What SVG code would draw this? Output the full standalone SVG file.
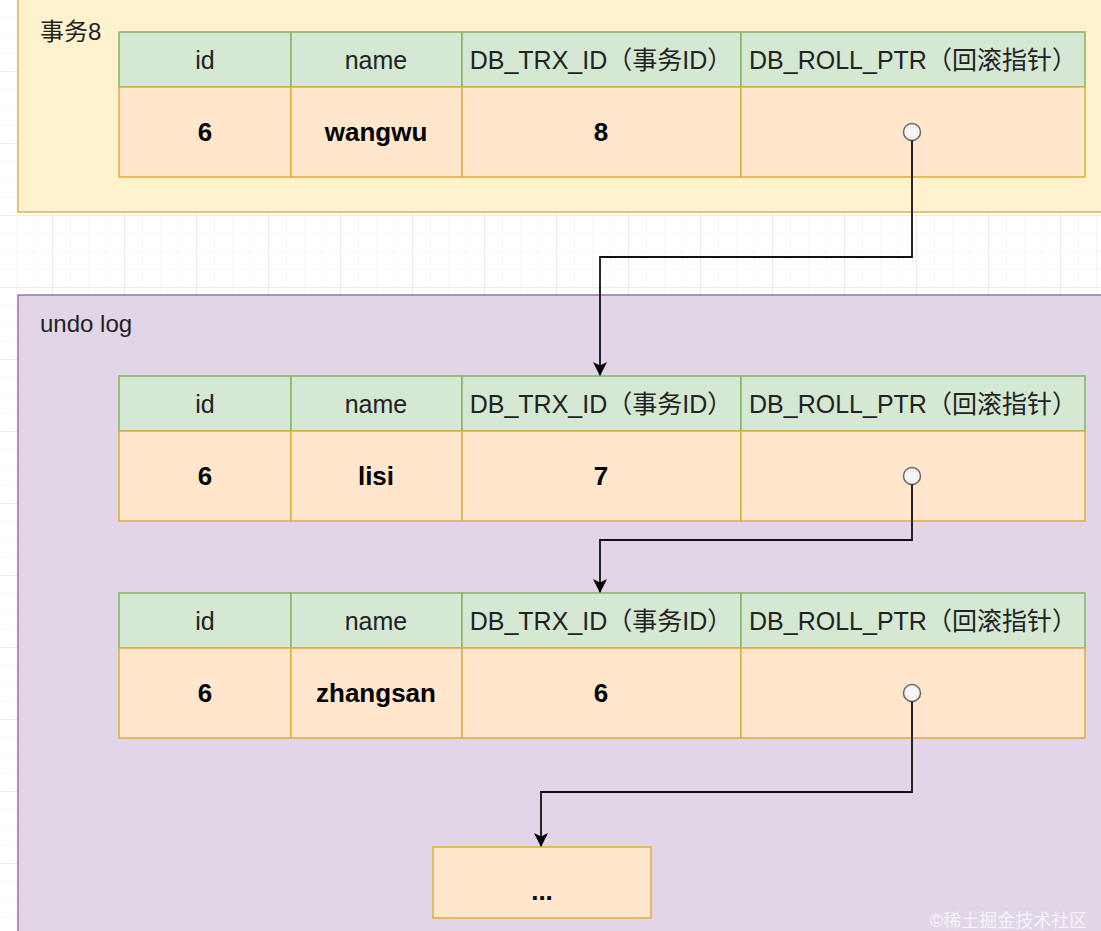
<svg xmlns="http://www.w3.org/2000/svg" width="1101" height="931" viewBox="0 0 1101 931">
<defs>
<pattern id="minor" x="-1" y="0" width="18" height="18" patternUnits="userSpaceOnUse">
<path d="M18 0 V18 M0 18 H18" fill="none" stroke="#efefef" stroke-width="1"/>
</pattern>
<pattern id="major" x="-19" y="0" width="72" height="72" patternUnits="userSpaceOnUse">
<path d="M72 0 V72 M0 72 H72" fill="none" stroke="#e0e0e0" stroke-width="1"/>
</pattern>
<marker id="arr" viewBox="0 0 14 14" refX="13" refY="7" markerWidth="14" markerHeight="14" markerUnits="userSpaceOnUse" orient="auto">
<path d="M0 0 L14 7 L0 14 L3.5 7 Z" fill="#000"/>
</marker>
</defs>
<style>
.t{font-family:"Liberation Sans","Noto Sans CJK SC",Arial,sans-serif;fill:#222}
.h{font-size:25px;text-anchor:middle}
.b{font-size:26px;font-weight:bold;text-anchor:middle;fill:#000}
.lbl{font-size:24px}
.hd{fill:#d5e8d4;stroke:#82b366;stroke-width:1.5}
.bd{fill:#ffe6cc;stroke:#e0ae3a;stroke-width:1.5}
.ptr{fill:#f5f5f5;stroke:#666;stroke-width:1.5}
.edge{fill:none;stroke:#111;stroke-width:1.8}
</style>
<rect width="1101" height="931" fill="#fff"/>
<rect width="1101" height="931" fill="url(#minor)"/>
<rect width="1101" height="931" fill="url(#major)"/>

<g id="trx8-container">
<rect x="18" y="-10" width="1100" height="222" fill="#fff2cc" stroke="#d6b656" stroke-width="1.5"/>
<text class="t lbl" x="40" y="40">事务8</text>
</g>

<g id="undo-container">
<rect x="18" y="295" width="1100" height="650" fill="#e1d5e7" stroke="#9673a6" stroke-width="1.5"/>
<text class="t lbl" x="40" y="332">undo log</text>
</g>

<g id="row-wangwu">
<rect class="hd" x="119" y="32" width="172" height="55"/>
<rect class="hd" x="291" y="32" width="171" height="55"/>
<rect class="hd" x="462" y="32" width="279" height="55"/>
<rect class="hd" x="741" y="32" width="344" height="55"/>
<rect class="bd" x="119" y="87" width="172" height="90"/>
<rect class="bd" x="291" y="87" width="171" height="90"/>
<rect class="bd" x="462" y="87" width="279" height="90"/>
<rect class="bd" x="741" y="87" width="344" height="90"/>
<text class="t h" x="205" y="69">id</text>
<text class="t h" x="376" y="69">name</text>
<text class="t h" x="601" y="69">DB_TRX_ID（事务ID）</text>
<text class="t h" x="913" y="69">DB_ROLL_PTR（回滚指针）</text>
<text class="t b" x="205" y="141">6</text>
<text class="t b" x="376" y="141">wangwu</text>
<text class="t b" x="601" y="141">8</text>
<circle class="ptr" cx="912" cy="132" r="8.5"/>
</g>

<g id="row-lisi">
<rect class="hd" x="119" y="376" width="172" height="55"/>
<rect class="hd" x="291" y="376" width="171" height="55"/>
<rect class="hd" x="462" y="376" width="279" height="55"/>
<rect class="hd" x="741" y="376" width="344" height="55"/>
<rect class="bd" x="119" y="431" width="172" height="90"/>
<rect class="bd" x="291" y="431" width="171" height="90"/>
<rect class="bd" x="462" y="431" width="279" height="90"/>
<rect class="bd" x="741" y="431" width="344" height="90"/>
<text class="t h" x="205" y="413">id</text>
<text class="t h" x="376" y="413">name</text>
<text class="t h" x="601" y="413">DB_TRX_ID（事务ID）</text>
<text class="t h" x="913" y="413">DB_ROLL_PTR（回滚指针）</text>
<text class="t b" x="205" y="485">6</text>
<text class="t b" x="376" y="485">lisi</text>
<text class="t b" x="601" y="485">7</text>
<circle class="ptr" cx="912" cy="476" r="8.5"/>
</g>

<g id="row-zhangsan">
<rect class="hd" x="119" y="593" width="172" height="55"/>
<rect class="hd" x="291" y="593" width="171" height="55"/>
<rect class="hd" x="462" y="593" width="279" height="55"/>
<rect class="hd" x="741" y="593" width="344" height="55"/>
<rect class="bd" x="119" y="648" width="172" height="90"/>
<rect class="bd" x="291" y="648" width="171" height="90"/>
<rect class="bd" x="462" y="648" width="279" height="90"/>
<rect class="bd" x="741" y="648" width="344" height="90"/>
<text class="t h" x="205" y="630">id</text>
<text class="t h" x="376" y="630">name</text>
<text class="t h" x="601" y="630">DB_TRX_ID（事务ID）</text>
<text class="t h" x="913" y="630">DB_ROLL_PTR（回滚指针）</text>
<text class="t b" x="205" y="702">6</text>
<text class="t b" x="376" y="702">zhangsan</text>
<text class="t b" x="601" y="702">6</text>
<circle class="ptr" cx="912" cy="693" r="8.5"/>
</g>

<g id="more">
<rect class="bd" x="433" y="847" width="218" height="71"/>
<text class="t b" x="542" y="900">...</text>
</g>

<g id="connectors">
<path class="edge" d="M912 140.5 V257 H600 V375" marker-end="url(#arr)"/>
<path class="edge" d="M912 484.5 V540 H600 V592" marker-end="url(#arr)"/>
<path class="edge" d="M912 701.5 V792 H541 V846" marker-end="url(#arr)"/>
</g>

<text class="t" x="930" y="927" font-size="18" style="fill:#f6f2f8">©稀土掘金技术社区</text>
</svg>
